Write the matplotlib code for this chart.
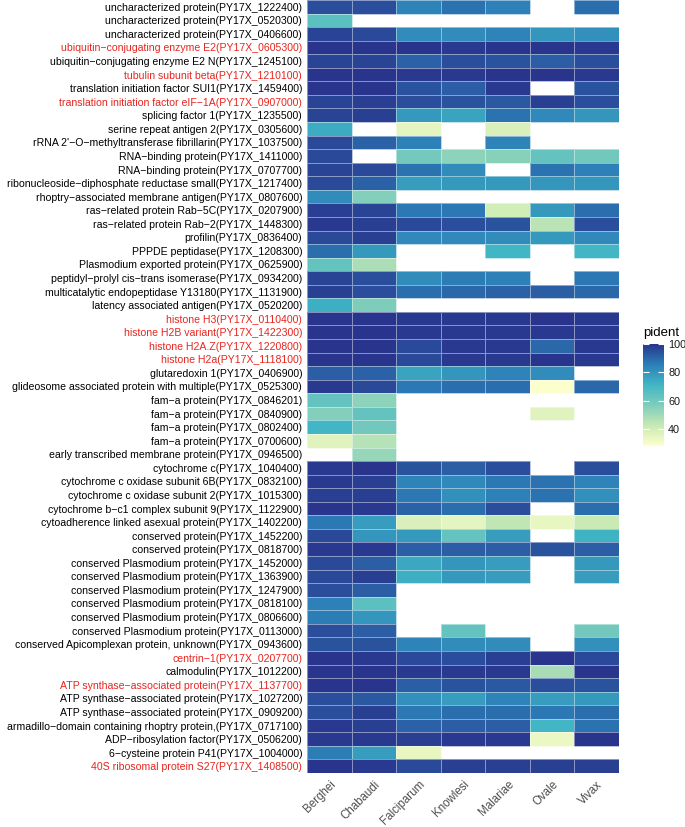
import numpy as np
import matplotlib
matplotlib.use("Agg")
import matplotlib.pyplot as plt
from matplotlib.colors import LinearSegmentedColormap

plt.rcParams['font.family'] = ['Liberation Sans', 'DejaVu Sans']

species = ["Berghei", "Chabaudi", "Falciparum", "Knowlesi", "Malariae", "Ovale", "Vivax"]

proteins = [
    "uncharacterized protein(PY17X_1222400)",
    "uncharacterized protein(PY17X_0520300)",
    "uncharacterized protein(PY17X_0406600)",
    "ubiquitin−conjugating enzyme E2(PY17X_0605300)",
    "ubiquitin−conjugating enzyme E2 N(PY17X_1245100)",
    "tubulin subunit beta(PY17X_1210100)",
    "translation initiation factor SUI1(PY17X_1459400)",
    "translation initiation factor eIF−1A(PY17X_0907000)",
    "splicing factor 1(PY17X_1235500)",
    "serine repeat antigen 2(PY17X_0305600)",
    "rRNA 2'−O−methyltransferase fibrillarin(PY17X_1037500)",
    "RNA−binding protein(PY17X_1411000)",
    "RNA−binding protein(PY17X_0707700)",
    "ribonucleoside−diphosphate reductase small(PY17X_1217400)",
    "rhoptry−associated membrane antigen(PY17X_0807600)",
    "ras−related protein Rab−5C(PY17X_0207900)",
    "ras−related protein Rab−2(PY17X_1448300)",
    "profilin(PY17X_0836400)",
    "PPPDE peptidase(PY17X_1208300)",
    "Plasmodium exported protein(PY17X_0625900)",
    "peptidyl−prolyl cis−trans isomerase(PY17X_0934200)",
    "multicatalytic endopeptidase Y13180(PY17X_1131900)",
    "latency associated antigen(PY17X_0520200)",
    "histone H3(PY17X_0110400)",
    "histone H2B variant(PY17X_1422300)",
    "histone H2A.Z(PY17X_1220800)",
    "histone H2a(PY17X_1118100)",
    "glutaredoxin 1(PY17X_0406900)",
    "glideosome associated protein with multiple(PY17X_0525300)",
    "fam−a protein(PY17X_0846201)",
    "fam−a protein(PY17X_0840900)",
    "fam−a protein(PY17X_0802400)",
    "fam−a protein(PY17X_0700600)",
    "early transcribed membrane protein(PY17X_0946500)",
    "cytochrome c(PY17X_1040400)",
    "cytochrome c oxidase subunit 6B(PY17X_0832100)",
    "cytochrome c oxidase subunit 2(PY17X_1015300)",
    "cytochrome b−c1 complex subunit 9(PY17X_1122900)",
    "cytoadherence linked asexual protein(PY17X_1402200)",
    "conserved protein(PY17X_1452200)",
    "conserved protein(PY17X_0818700)",
    "conserved Plasmodium protein(PY17X_1452000)",
    "conserved Plasmodium protein(PY17X_1363900)",
    "conserved Plasmodium protein(PY17X_1247900)",
    "conserved Plasmodium protein(PY17X_0818100)",
    "conserved Plasmodium protein(PY17X_0806600)",
    "conserved Plasmodium protein(PY17X_0113000)",
    "conserved Apicomplexan protein, unknown(PY17X_0943600)",
    "centrin−1(PY17X_0207700)",
    "calmodulin(PY17X_1012200)",
    "ATP synthase−associated protein(PY17X_1137700)",
    "ATP synthase−associated protein(PY17X_1027200)",
    "ATP synthase−associated protein(PY17X_0909200)",
    "armadillo−domain containing rhoptry protein,(PY17X_0717100)",
    "ADP−ribosylation factor(PY17X_0506200)",
    "6−cysteine protein P41(PY17X_1004000)",
    "40S ribosomal protein S27(PY17X_1408500)",
]

highlighted = [
    "ubiquitin−conjugating enzyme E2(PY17X_0605300)",
    "tubulin subunit beta(PY17X_1210100)",
    "translation initiation factor eIF−1A(PY17X_0907000)",
    "histone H3(PY17X_0110400)",
    "histone H2B variant(PY17X_1422300)",
    "histone H2A.Z(PY17X_1220800)",
    "histone H2a(PY17X_1118100)",
    "centrin−1(PY17X_0207700)",
    "ATP synthase−associated protein(PY17X_1137700)",
    "40S ribosomal protein S27(PY17X_1408500)",
]

N = np.nan
# pident per species: Berghei, Chabaudi, Falciparum, Knowlesi, Malariae, Ovale, Vivax
pident = [
    [95, 95, 84, 88, 85, N, 89],
    [65, N, N, N, N, N, N],
    [97, 96, 82, 82, 84, 80, 81],
    [100, 100, 100, 99, 100, 100, 99],
    [97, 97, 91, 95, 94, 92, 95],
    [100, 100, 99, 99, 100, 100, 99],
    [100, 100, 94, 92, 99, N, 94],
    [97, 98, 95, 94, 93, 98, 95],
    [97, 98, 79, 76, 88, 83, 80],
    [74, N, 35, N, 38, N, N],
    [96, 91, 85, N, 84, N, N],
    [96, N, 59, 54, 55, 63, 60],
    [97, 96, 88, 82, N, 88, 85],
    [96, 91, 78, 79, 79, 80, 80],
    [82, 56, N, N, N, N, N],
    [98, 97, 87, 87, 40, 79, 89],
    [99, 98, 96, 95, 94, 45, 95],
    [96, 98, 83, 83, 82, 79, 83],
    [89, 79, N, N, 71, N, 71],
    [63, 48, N, N, N, N, N],
    [97, 95, 82, 86, 85, N, 87],
    [98, 95, 89, 90, 91, 92, 90],
    [73, 57, N, N, N, N, N],
    [100, 100, 99, 99, 99, 100, 99],
    [100, 100, 99, 99, 99, 99, 99],
    [100, 100, 96, 99, 99, 90, 99],
    [100, 100, 96, 99, 99, 100, 99],
    [92, 91, 76, 80, 84, 82, N],
    [99, 96, 87, 89, 89, 29, 90],
    [63, 54, N, N, N, N, N],
    [56, 63, N, N, N, 36, N],
    [71, 60, N, N, N, N, N],
    [36, 46, N, N, N, N, N],
    [N, 52, N, N, N, N, N],
    [99, 100, 94, 92, 95, N, 95],
    [99, 98, 84, 83, 87, 88, 84],
    [98, 98, 87, 81, 85, 88, 81],
    [100, 99, 91, 89, 95, N, 89],
    [87, 78, 38, 35, 44, 34, 42],
    [96, 80, 79, 63, 78, N, 72],
    [99, 99, 92, 92, 92, 94, 92],
    [96, 92, 75, 80, 78, N, 79],
    [96, 98, 73, 79, 78, N, 78],
    [95, 92, N, N, N, N, N],
    [85, 65, N, N, N, N, N],
    [86, 80, N, N, N, N, N],
    [95, 92, N, 63, N, N, 60],
    [94, 94, 84, 82, 82, N, 81],
    [100, 99, 96, 95, 98, 100, 96],
    [100, 100, 99, 99, 99, 49, 100],
    [100, 100, 92, 94, 93, 95, 94],
    [95, 93, 81, 78, 84, 78, 79],
    [95, 98, 87, 89, 89, 87, 89],
    [99, 98, 91, 92, 92, 71, 88],
    [99, 99, 98, 99, 99, 33, 100],
    [86, 78, 34, N, N, N, N],
    [100, 99, 96, 98, 98, 98, 98],
]

colorbar_ticks = [40, 60, 80, 100]

data = np.array(pident, dtype=float)
vmin, vmax = 28, 100
cmap = LinearSegmentedColormap.from_list(
    "ylgnbu", ["#ffffcc", "#c7e9b4", "#7fcdbb", "#41b6c4", "#2c7fb8", "#29358c"])

W, H = 685, 827
fig = plt.figure(figsize=(W / 100, H / 100), dpi=100)
ax = fig.add_axes([307 / W, 1 - 773 / H, (619 - 307) / W, 773 / H])

masked = np.ma.masked_invalid(data)
mesh = ax.pcolormesh(masked, cmap=cmap, vmin=vmin, vmax=vmax,
                     edgecolors=(1, 1, 1, 0.45), linewidth=0.4)
ax.set_xlim(0, len(species))
ax.set_ylim(len(proteins), 0)
for s in ax.spines.values():
    s.set_visible(False)

ax.set_yticks(np.arange(len(proteins)) + 0.5)
ax.set_yticklabels(proteins, fontsize=7.55)
ax.set_xticks(np.arange(len(species)) + 0.5)
ax.set_xticklabels(species, fontsize=8.3, rotation=45, ha="right",
                   rotation_mode="anchor", color="#4d4d4d")
ax.tick_params(axis="y", length=0, pad=3.5)
ax.tick_params(axis="x", length=0, pad=4)
for lbl in ax.get_yticklabels():
    lbl.set_color("#E8251F" if lbl.get_text() in highlighted else "black")

cax = fig.add_axes([643 / W, 1 - 446 / H, 21 / W, 102 / H])
cb = fig.colorbar(mesh, cax=cax, ticks=colorbar_ticks)
cb.outline.set_visible(False)
cax.tick_params(axis="y", direction="in", length=4, width=0.8, color="white",
                left=True, right=True, labelsize=7.8, labelcolor="#1a1a1a", pad=3)
fig.text(643 / W, 1 - 333 / H, "pident", fontsize=9.5, ha="left", va="center")

fig.savefig("out.png", dpi=100)
